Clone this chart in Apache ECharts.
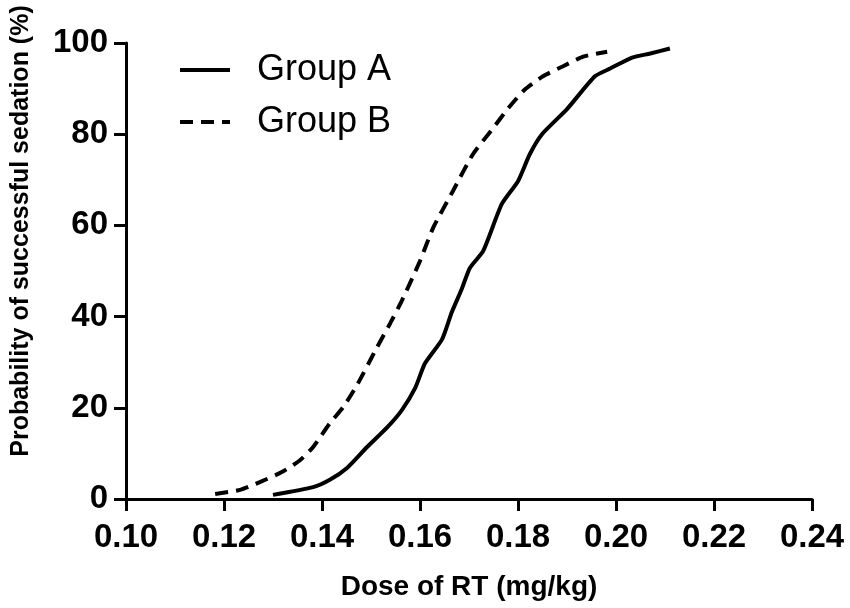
<!DOCTYPE html>
<html>
<head>
<meta charset="utf-8">
<script src="https://cdn.jsdelivr.net/npm/echarts@6/dist/echarts.min.js"></script>
<style>
  html, body { margin: 0; padding: 0; background: #fff; }
  #chart { width: 850px; height: 608px; }
</style>
</head>
<body>
<div id="chart"></div>
<script>
// dose (mg/kg) and probability (%)
const doseA = [0.130, 0.1382, 0.1416, 0.1451, 0.1492, 0.1533, 0.1563, 0.159, 0.161, 0.1645, 0.1665, 0.1685, 0.1702, 0.1729, 0.1767, 0.180, 0.1824, 0.1849, 0.190, 0.1957, 0.1988, 0.2033, 0.207, 0.211]
const probA = [0.9, 2.6, 4.2, 6.8, 11.4, 15.7, 19.5, 24.3, 29.7, 35, 41, 46, 50.7, 54.4, 64.7, 69.7, 75.6, 80, 85.5, 92.7, 94.4, 96.8, 97.7, 98.8]
const doseB = [0.1182, 0.1233, 0.1273, 0.1318, 0.1355, 0.1382, 0.1416, 0.1443, 0.1471, 0.1512, 0.1539, 0.1563, 0.160, 0.1627, 0.1667, 0.1708, 0.1749, 0.178, 0.1814, 0.1851, 0.1892, 0.1933, 0.1982]
const probB = [1.1, 2, 3.7, 5.9, 8.5, 11.4, 16.6, 20.1, 24.9, 33.2, 38.5, 43.5, 52.2, 59.5, 67.5, 75.6, 81.3, 85.7, 89.8, 92.7, 94.9, 97, 98.1]
const seriesNames = ['Group A', 'Group B']

const font = '"Liberation Sans", Arial, sans-serif'
const pairs = (xs, ys) => xs.map((x, i) => [x, ys[i]])

const chart = echarts.init(document.getElementById('chart'))
chart.setOption({
  animation: false,
  grid: { left: 126, right: 38, top: 43, bottom: 109, outerBoundsMode: 'none', containLabel: false },
  legend: {
    orient: 'vertical',
    left: 173,
    top: 45,
    itemWidth: 50,
    itemHeight: 14,
    itemGap: 12,
    data: seriesNames,
    itemStyle: { opacity: 0 },
    lineStyle: { width: 4 },
    textStyle: {
      fontFamily: font,
      fontSize: 36,
      color: '#000',
      lineHeight: 40,
      padding: [0, 0, 0, 22]
    }
  },
  xAxis: {
    type: 'value',
    min: 0.10,
    max: 0.24,
    interval: 0.02,
    name: 'Dose of RT (mg/kg)',
    nameLocation: 'middle',
    nameGap: 74,
    nameTextStyle: { fontFamily: font, fontSize: 28, fontWeight: 'bold', color: '#000' },
    axisLine: { lineStyle: { color: '#000', width: 3 } },
    axisTick: { length: 12, lineStyle: { color: '#000', width: 3 } },
    axisLabel: {
      margin: 22,
      fontFamily: font, fontSize: 33, fontWeight: 'bold', color: '#000',
      formatter: v => v.toFixed(2)
    },
    splitLine: { show: false }
  },
  yAxis: {
    type: 'value',
    min: 0,
    max: 100,
    interval: 20,
    name: 'Probability of successful sedation (%)',
    nameLocation: 'middle',
    nameGap: 92,
    nameTextStyle: { fontFamily: font, fontSize: 25, fontWeight: 'bold', color: '#000', padding: [0, 0, 0, 80] },
    axisLine: { show: true, lineStyle: { color: '#000', width: 3 } },
    axisTick: { show: true, length: 12, lineStyle: { color: '#000', width: 3 } },
    axisLabel: { margin: 18, fontFamily: font, fontSize: 33, fontWeight: 'bold', color: '#000' },
    splitLine: { show: false }
  },
  series: [
    {
      name: seriesNames[0],
      type: 'line',
      data: pairs(doseA, probA),
      symbol: 'none',
      smooth: 0.2,
      itemStyle: { color: '#000' },
      lineStyle: { color: '#000', width: 4 }
    },
    {
      name: seriesNames[1],
      type: 'line',
      data: pairs(doseB, probB),
      symbol: 'none',
      smooth: 0.2,
      itemStyle: { color: '#000' },
      lineStyle: { color: '#000', width: 4, type: [13, 8] }
    }
  ]
})
</script>
</body>
</html>
